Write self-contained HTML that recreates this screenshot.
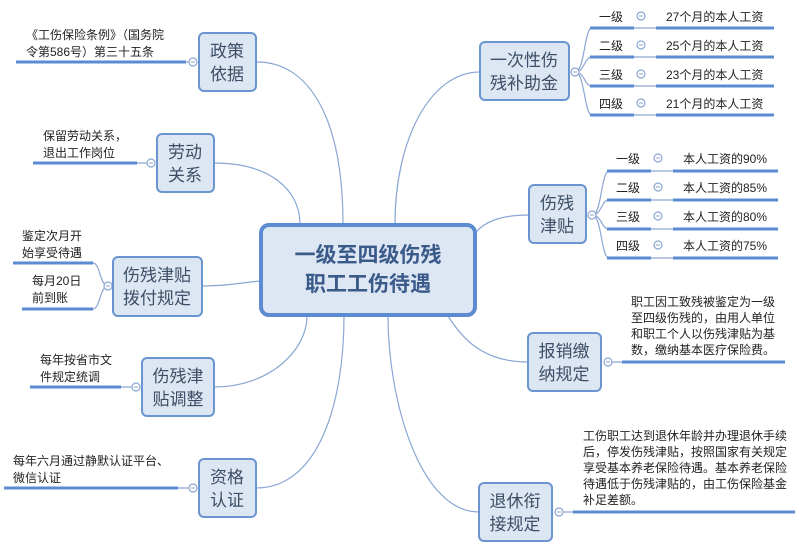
<!DOCTYPE html>
<html><head><meta charset="utf-8"><style>
body{margin:0;background:#fff}
svg text{font-family:"Liberation Sans","Noto Sans CJK SC",sans-serif;fill:#222}
.n{font-size:17px;fill:#3d4f66}
.l{font-size:12px}
</style></head><body>
<svg width="800" height="552" viewBox="0 0 800 552" xmlns="http://www.w3.org/2000/svg">
<g fill="none" stroke="#8aa6d4" stroke-width="1.2">
<path d="M257,62 C310,62 343,120 343,224"/>
<path d="M214,163 C270,163 300,190 300,224"/>
<path d="M202,286 C230,286 245,282 261,281"/>
<path d="M214,387 C270,387 307,350 307,316"/>
<path d="M256,488 C320,488 344,400 344,316"/>
<path d="M480,72 C430,72 395,140 395,224"/>
<path d="M529,215 C500,215 485,222 476,232"/>
<path d="M528,362 C480,362 460,335 448,316"/>
<path d="M479,512 C420,512 388,400 388,316"/>
<path d="M108,286 C100,286 100,263 93,263"/>
<path d="M108,286 C100,286 100,309 93,309"/>
<path d="M575,72 C585,72 584,28 592,28"/>
<path d="M575,72 C585,72 584,57 592,57"/>
<path d="M575,72 C585,72 584,86 592,86"/>
<path d="M575,72 C585,72 584,115 592,115"/>
<path d="M592,215 C602,215 601,171 609,171"/>
<path d="M592,215 C602,215 601,200 609,200"/>
<path d="M592,215 C602,215 601,229 609,229"/>
<path d="M592,215 C602,215 601,258 609,258"/>
<path d="M634,28H656M634,57H656M634,86H656M634,115H656"/>
<path d="M651,171H673M651,200H673M651,229H673M651,258H673"/>
<path d="M186,62H190M137,163H148M121,387H133M178,488H190M612,362H622M563,512H573"/>
</g>
<g stroke="#5b8bd0" stroke-width="3" fill="none">
<path d="M16,62H186M33,163H137M13,263H93M22,309H93M30,387H121M4,488H178"/>
<path d="M590,28H634M590,57H634M590,86H634M590,115H634M656,28H774M656,57H774M656,86H774M656,115H774"/>
<path d="M607,171H651M607,200H651M607,229H651M607,258H651M673,171H778M673,200H778M673,229H778M673,258H778"/>
<path d="M622,362H785M573,512H795"/>
</g>
<g fill="#fff" stroke="#8aa6d4" stroke-width="1.2">
<circle cx="193" cy="62" r="4"/><circle cx="151" cy="163" r="4"/><circle cx="108" cy="286" r="4"/>
<circle cx="136" cy="387" r="4"/><circle cx="193" cy="488" r="4"/>
<circle cx="575" cy="72" r="4"/><circle cx="592" cy="215" r="4"/><circle cx="608" cy="362" r="4"/><circle cx="559" cy="512" r="4"/>
<circle cx="641" cy="16" r="4"/><circle cx="641" cy="45" r="4"/><circle cx="641" cy="74" r="4"/><circle cx="641" cy="103" r="4"/>
<circle cx="658" cy="158" r="4"/><circle cx="658" cy="187" r="4"/><circle cx="658" cy="216" r="4"/><circle cx="658" cy="245" r="4"/>
</g>
<g stroke="#8aa6d4" stroke-width="1"><path d="M639,16h4M639,45h4M639,74h4M639,103h4M656,158h4M656,187h4M656,216h4M656,245h4M191,62h4M149,163h4M106,286h4M134,387h4M191,488h4M573,72h4M590,215h4M606,362h4M557,512h4"/></g>
<g fill="#dde6f3" stroke="#6a95d0" stroke-width="2">
<rect x="199" y="33" width="57" height="58" rx="5"/>
<rect x="157" y="134" width="57" height="58" rx="5"/>
<rect x="113" y="257" width="89" height="59" rx="5"/>
<rect x="142" y="358" width="72" height="58" rx="5"/>
<rect x="199" y="459" width="57" height="58" rx="5"/>
<rect x="480" y="42" width="89" height="58" rx="5"/>
<rect x="529" y="185" width="57" height="58" rx="5"/>
<rect x="528" y="333" width="73" height="58" rx="5"/>
<rect x="479" y="483" width="73" height="58" rx="5"/>
</g>
<rect x="261" y="225" width="214" height="90" rx="8" fill="#dde6f3" stroke="#5b8bd0" stroke-width="4"/>
<text x="368" y="262" text-anchor="middle" style="font-size:21px;font-weight:bold;fill:#3a5a8a">一级至四级伤残</text>
<text x="368" y="291" text-anchor="middle" style="font-size:21px;font-weight:bold;fill:#3a5a8a">职工工伤待遇</text>
<g class="n" text-anchor="middle">
<text class="n" x="227" y="57">政策</text><text class="n" x="227" y="80">依据</text>
<text class="n" x="185" y="158">劳动</text><text class="n" x="185" y="181">关系</text>
<text class="n" x="157" y="281">伤残津贴</text><text class="n" x="157" y="304">拨付规定</text>
<text class="n" x="178" y="382">伤残津</text><text class="n" x="178" y="405">贴调整</text>
<text class="n" x="227" y="483">资格</text><text class="n" x="227" y="506">认证</text>
<text class="n" x="524" y="66">一次性伤</text><text class="n" x="524" y="89">残补助金</text>
<text class="n" x="557" y="209">伤残</text><text class="n" x="557" y="232">津贴</text>
<text class="n" x="564" y="357">报销缴</text><text class="n" x="564" y="380">纳规定</text>
<text class="n" x="515" y="507">退休衔</text><text class="n" x="515" y="530">接规定</text>
</g>
<g class="l">
<text class="l" x="26" y="39">《工伤保险条例》（国务院</text><text class="l" x="26" y="56">令第586号）第三十五条</text>
<text class="l" x="43" y="140">保留劳动关系，</text><text class="l" x="43" y="157">退出工作岗位</text>
<text class="l" x="22" y="240">鉴定次月开</text><text class="l" x="22" y="257">始享受待遇</text>
<text class="l" x="32" y="285">每月20日</text><text class="l" x="32" y="302">前到账</text>
<text class="l" x="40" y="364">每年按省市文</text><text class="l" x="40" y="381">件规定统调</text>
<text class="l" x="13" y="465">每年六月通过静默认证平台、</text><text class="l" x="13" y="482">微信认证</text>
<text class="l" x="599" y="21">一级</text><text class="l" x="599" y="50">二级</text><text class="l" x="599" y="79">三级</text><text class="l" x="599" y="108">四级</text>
<text class="l" x="666" y="21">27个月的本人工资</text><text class="l" x="666" y="50">25个月的本人工资</text><text class="l" x="666" y="79">23个月的本人工资</text><text class="l" x="666" y="108">21个月的本人工资</text>
<text class="l" x="616" y="163">一级</text><text class="l" x="616" y="192">二级</text><text class="l" x="616" y="221">三级</text><text class="l" x="616" y="250">四级</text>
<text class="l" x="683" y="163">本人工资的90%</text><text class="l" x="683" y="192">本人工资的85%</text><text class="l" x="683" y="221">本人工资的80%</text><text class="l" x="683" y="250">本人工资的75%</text>
<text class="l" x="631" y="306">职工因工致残被鉴定为一级</text><text class="l" x="631" y="322">至四级伤残的，由用人单位</text><text class="l" x="631" y="338">和职工个人以伤残津贴为基</text><text class="l" x="631" y="354">数，缴纳基本医疗保险费。</text>
<text class="l" x="583" y="440">工伤职工达到退休年龄并办理退休手续</text><text class="l" x="583" y="456">后，停发伤残津贴，按照国家有关规定</text><text class="l" x="583" y="472">享受基本养老保险待遇。基本养老保险</text><text class="l" x="583" y="488">待遇低于伤残津贴的，由工伤保险基金</text><text class="l" x="583" y="504">补足差额。</text>
</g>
</svg>
</body></html>
